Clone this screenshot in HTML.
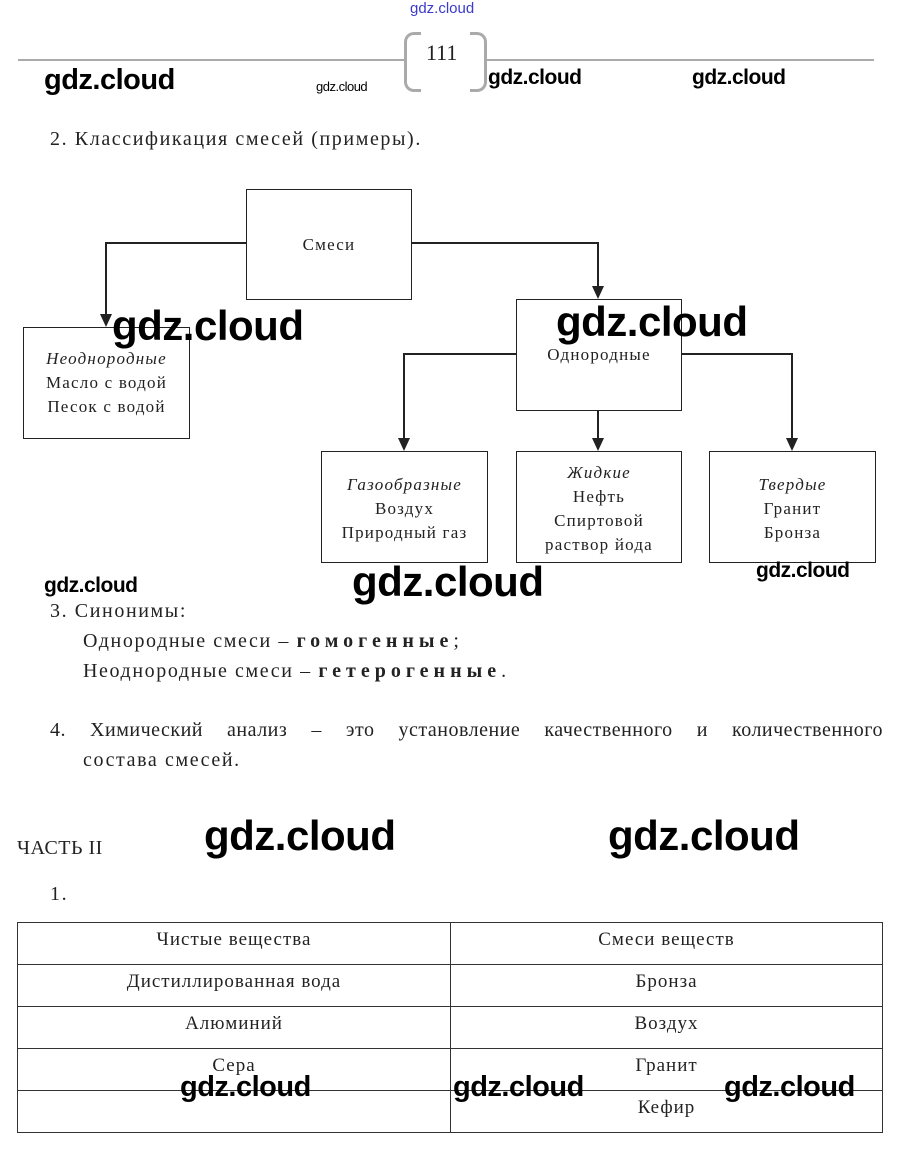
<!DOCTYPE html>
<html><head><meta charset="utf-8"><style>
body{margin:0;width:897px;height:1151px;background:#fff;position:relative;overflow:hidden;font-family:"Liberation Serif",serif;color:#222}
.a{position:absolute;white-space:nowrap}
.t{font-size:20px;letter-spacing:1.6px}
.w{position:absolute;font-family:"Liberation Sans",sans-serif;font-weight:bold;color:#000;white-space:nowrap;letter-spacing:-0.5px}
.box{position:absolute;border:1px solid #222;box-sizing:border-box;text-align:center;font-size:17px;letter-spacing:1.2px;line-height:24px;color:#222}
td{border:1px solid #333;text-align:center;font-size:19px;letter-spacing:1px;height:41px;padding:0;vertical-align:top;line-height:34px;color:#222}
</style></head><body>
<div class="a" style="left:410px;top:0;font-family:'Liberation Sans',sans-serif;font-size:15px;color:#3a3acc">gdz.cloud</div>
<div class="a" style="left:18px;top:59px;width:387px;height:2px;background:#aaa"></div>
<div class="a" style="left:486px;top:59px;width:388px;height:2px;background:#aaa"></div>
<div class="a" style="left:404px;top:32px;width:14px;height:54px;border:3px solid #aaa;border-right:none;border-radius:10px 0 0 10px"></div>
<div class="a" style="left:470px;top:32px;width:14px;height:54px;border:3px solid #aaa;border-left:none;border-radius:0 10px 10px 0"></div>
<div class="a" style="left:426px;top:40px;font-size:22px">111</div>
<div class="w" style="left:44px;top:64px;font-size:29px">gdz.cloud</div>
<div class="w" style="left:316px;top:79px;font-size:13px;font-weight:normal">gdz.cloud</div>
<div class="w" style="left:488px;top:66px;font-size:21px">gdz.cloud</div>
<div class="w" style="left:692px;top:66px;font-size:21px">gdz.cloud</div>
<div class="a t" style="left:50px;top:128px">2. Классификация смесей (примеры).</div>

<svg class="a" style="left:0;top:0" width="897" height="600">
<g stroke="#222" stroke-width="2" fill="none">
<path d="M246,243 H106 V318"/>
<path d="M411,243 H598 V290"/>
<path d="M516,354 H404 V442"/>
<path d="M598,410 V442"/>
<path d="M681,354 H792 V442"/>
</g>
<g fill="#222">
<path d="M100,314 L112,314 L106,327 z"/>
<path d="M592,286 L604,286 L598,299 z"/>
<path d="M398,438 L410,438 L404,451 z"/>
<path d="M592,438 L604,438 L598,451 z"/>
<path d="M786,438 L798,438 L792,451 z"/>
</g>
</svg>
<div class="box" style="left:246px;top:189px;width:166px;height:111px;padding-top:43px">Смеси</div>
<div class="box" style="left:23px;top:327px;width:167px;height:112px;padding-top:19px"><i>Неоднородные</i><br>Масло с водой<br>Песок с водой</div>
<div class="box" style="left:516px;top:299px;width:166px;height:112px;padding-top:43px">Однородные</div>
<div class="box" style="left:321px;top:451px;width:167px;height:112px;padding-top:21px"><i>Газообразные</i><br>Воздух<br>Природный газ</div>
<div class="box" style="left:516px;top:451px;width:166px;height:112px;padding-top:9px"><i>Жидкие</i><br>Нефть<br>Спиртовой<br>раствор йода</div>
<div class="box" style="left:709px;top:451px;width:167px;height:112px;padding-top:21px"><i>Твердые</i><br>Гранит<br>Бронза</div>
<div class="w" style="left:112px;top:302px;font-size:42px">gdz.cloud</div>
<div class="w" style="left:556px;top:298px;font-size:42px">gdz.cloud</div>
<div class="w" style="left:44px;top:574px;font-size:21px">gdz.cloud</div>
<div class="w" style="left:352px;top:558px;font-size:42px">gdz.cloud</div>
<div class="w" style="left:756px;top:559px;font-size:21px">gdz.cloud</div>

<div class="a t" style="left:50px;top:600px">3. Синонимы:</div>
<div class="a t" style="left:83px;top:630px">Однородные смеси – <b style="letter-spacing:5px">гомогенные</b>;</div>
<div class="a t" style="left:83px;top:660px">Неоднородные смеси – <b style="letter-spacing:5px">гетерогенные</b>.</div>
<div class="a t" style="left:50px;top:719px;width:833px;text-align:justify;text-align-last:justify;letter-spacing:0.5px">4.&nbsp;Химический анализ – это установление качественного и количественного</div>
<div class="a t" style="left:83px;top:749px">состава смесей.</div>
<div class="a t" style="left:17px;top:837px;letter-spacing:0.5px">ЧАСТЬ II</div>
<div class="w" style="left:204px;top:812px;font-size:42px">gdz.cloud</div>
<div class="w" style="left:608px;top:812px;font-size:42px">gdz.cloud</div>
<div class="a t" style="left:50px;top:883px">1.</div>
<table class="a" style="left:17px;top:922px;width:866px;border-collapse:collapse">
<tr><td style="width:432px">Чистые вещества</td><td>Смеси веществ</td></tr>
<tr><td>Дистиллированная вода</td><td>Бронза</td></tr>
<tr><td>Алюминий</td><td>Воздух</td></tr>
<tr><td>Сера</td><td>Гранит</td></tr>
<tr><td></td><td>Кефир</td></tr>
</table>
<div class="w" style="left:180px;top:1071px;font-size:29px">gdz.cloud</div>
<div class="w" style="left:453px;top:1071px;font-size:29px">gdz.cloud</div>
<div class="w" style="left:724px;top:1071px;font-size:29px">gdz.cloud</div>
</body></html>
